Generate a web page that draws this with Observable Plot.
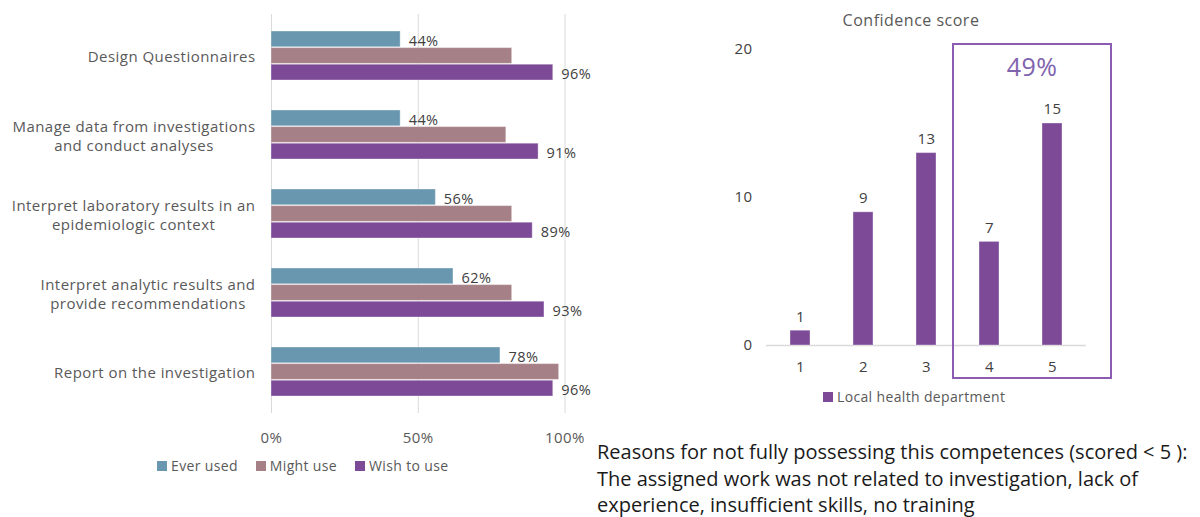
<!DOCTYPE html>
<html>
<head>
<meta charset="utf-8">
<script src="https://cdn.jsdelivr.net/npm/d3@7"></script>
<script src="https://cdn.jsdelivr.net/npm/@observablehq/plot@0.6"></script>
<style>
  html, body { margin: 0; padding: 0; background: #fff; width: 1200px; height: 517px; overflow: hidden; }
  body { position: relative; font-family: "Open Sans", sans-serif; }
  .abs { position: absolute; }
  .legend { display: flex; align-items: center; font-size: 14px; letter-spacing: 0.35px; color: #595959; white-space: nowrap; }
  .legend .item { display: flex; align-items: center; margin-right: 18px; }
  .legend .sw { width: 10px; height: 10px; margin-right: 4px; }
  #title { font-size: 16px; letter-spacing: 0.5px; color: #595959; white-space: nowrap; transform: translateX(-50%); }
  #note { font-family: "Open Sans", sans-serif; font-size: 20px; line-height: 26.7px; color: #1a1a1a; white-space: nowrap; }
</style>
</head>
<body>
<div id="left" class="abs" style="left:0;top:0"></div>
<div id="leftLegend" class="abs legend" style="left:157px;top:456px"></div>
<div id="right" class="abs" style="left:700px;top:0"></div>
<div id="title" class="abs" style="left:911px;top:9px">Confidence score</div>
<div id="rightLegend" class="abs legend" style="left:823px;top:387px"></div>
<div id="note" class="abs" style="left:597px;top:439px">Reasons for not fully possessing this competences (scored &lt; 5 ):<br>The assigned work was not related to investigation, lack of<br>experience, insufficient skills, no training</div>
<script>
// ---------- Data ----------
const categories = [
  "Design Questionnaires",
  "Manage data from investigations\nand conduct analyses",
  "Interpret laboratory results in an\nepidemiologic context",
  "Interpret analytic results and\nprovide recommendations",
  "Report on the investigation"
];
const seriesNames = ["Ever used", "Might use", "Wish to use"];
const seriesColors = ["#6997B0", "#A68087", "#7D4A98"];
const everUsed  = [0.44, 0.44, 0.56, 0.62, 0.78];
const mightUse  = [0.82, 0.80, 0.82, 0.82, 0.98];
const wishToUse = [0.96, 0.91, 0.89, 0.93, 0.96];
const xTicks = [0, 0.5, 1];

const scores = ["1", "2", "3", "4", "5"];
const counts = [1, 9, 13, 7, 15];
const yTicksRight = [0, 10, 20];
const rightSeries = "Local health department";
const highlightScores = ["4", "5"];
const highlightLabel = "49%";

const fontFamily = '"Open Sans", sans-serif';
const textColor = "#595959";
const valueColor = "#404040";
const gridColor = "#d9d9d9";
const ls = 0.45;

// ---------- Left chart ----------
const seriesValues = [everUsed, mightUse, wishToUse];
const rows = [];
categories.forEach((c, i) => seriesNames.forEach((s, j) => rows.push({cat: c, series: s, si: j, value: seriesValues[j][i]})));

const L = {width: 600, height: 450, mt: 14, mb: 37, ml: 271, mr: 35.5, pi: 0.375, po: 0.19};
const step = (L.height - L.mt - L.mb) / (categories.length - L.pi + 2 * L.po);
const bw = step * (1 - L.pi);
const sub = bw / 3;

// measure label lines for centered multi-line labels
const cv = document.createElement("canvas").getContext("2d");
cv.font = `15px ${fontFamily}`;
const labelMarks = categories.map(c => {
  const w = Math.max(...c.split("\n").map(t => cv.measureText(t).width + t.length * ls));
  return Plot.text([c], {y: d => d, text: d => d, frameAnchor: "left", textAnchor: "middle",
    dx: -(w / 2 + 16), lineHeight: 1.3, fill: textColor, fontSize: 15});
});

const leftPlot = Plot.plot({
  width: L.width, height: L.height,
  marginTop: L.mt, marginBottom: L.mb, marginLeft: L.ml, marginRight: L.mr,
  style: {fontFamily, fontSize: "15px", letterSpacing: ls + "px", color: textColor, background: "transparent", overflow: "visible"},
  x: {domain: [0, 1], ticks: xTicks, tickFormat: d3.format(".0%"), tickSize: 0, tickPadding: 19, label: null},
  y: {domain: categories, paddingInner: L.pi, paddingOuter: L.po, axis: null},
  marks: [
    Plot.ruleX(xTicks, {stroke: gridColor, strokeWidth: 1}),
    ...seriesNames.map((s, j) => Plot.barX(rows.filter(r => r.series === s), {
      x: "value", y: "cat", fill: seriesColors[j],
      insetTop: j * sub, insetBottom: (2 - j) * sub,
      stroke: "#ffffff", strokeOpacity: 0.35, strokeWidth: 1
    })),
    Plot.text(rows.filter(r => r.si === 0), {x: "value", y: "cat", text: d => d3.format(".0%")(d.value),
      textAnchor: "start", dx: 8, dy: -sub + 1.5, fill: valueColor, fontSize: 14.5}),
    Plot.text(rows.filter(r => r.si === 2), {x: "value", y: "cat", text: d => d3.format(".0%")(d.value),
      textAnchor: "start", dx: 8, dy: sub + 1.5, fill: valueColor, fontSize: 14.5}),
    ...labelMarks
  ]
});
document.getElementById("left").appendChild(leftPlot);

const ll = document.getElementById("leftLegend");
seriesNames.forEach((s, j) => {
  const it = document.createElement("div"); it.className = "item";
  it.innerHTML = `<div class="sw" style="background:${seriesColors[j]}"></div><span>${s}</span>`;
  ll.appendChild(it);
});

// ---------- Right chart ----------
const scoreRows = scores.map((s, i) => ({score: s, count: counts[i]}));
const R = {width: 500, height: 420, mt: 49, mb: 75, ml: 66, mr: 114.3};
const rightPlot = Plot.plot({
  width: R.width, height: R.height,
  marginTop: R.mt, marginBottom: R.mb, marginLeft: R.ml, marginRight: R.mr,
  style: {fontFamily, fontSize: "15px", letterSpacing: "0.4px", color: valueColor, background: "transparent", overflow: "visible"},
  x: {domain: scores, paddingInner: 0.69, paddingOuter: 0.345, tickSize: 0, tickPadding: 16, label: null},
  y: {domain: [0, 20], ticks: yTicksRight, tickSize: 0, tickPadding: 14, label: null},
  marks: [
    Plot.ruleY([0], {stroke: gridColor, strokeWidth: 1.5}),
    Plot.barY(scoreRows, {x: "score", y: "count", fill: seriesColors[2], stroke: "#ffffff", strokeOpacity: 0.35, strokeWidth: 1}),
    Plot.text(scoreRows, {x: "score", y: "count", text: d => String(d.count), dy: -14, fill: valueColor, fontSize: 15})
  ]
});
document.getElementById("right").appendChild(rightPlot);

// highlight box derived from the scales
(function () {
  const xs = rightPlot.scale("x"), ys = rightPlot.scale("y");
  const xa = v => xs.apply(v), ya = v => ys.apply(v);
  const bwR = xs.bandwidth != null ? xs.bandwidth : 20;
  const x0 = xa(highlightScores[0]) - 26;
  const x1 = xa(highlightScores[highlightScores.length - 1]) + bwR + 49;
  const y0 = ya(20) - 5, y1 = ya(0) + 33;
  const svg = d3.select(rightPlot);
  svg.append("rect").attr("x", x0).attr("y", y0).attr("width", x1 - x0).attr("height", y1 - y0)
    .attr("fill", "none").attr("stroke", "#8C5CB1").attr("stroke-width", 2);
  svg.append("text").attr("x", (x0 + x1) / 2).attr("y", y0 + 25).attr("text-anchor", "middle")
    .attr("dominant-baseline", "middle").attr("fill", "#7F63AE").attr("font-size", 25)
    .attr("font-family", fontFamily).text(highlightLabel);
})();

const rl = document.getElementById("rightLegend");
rl.innerHTML = `<div class="item"><div class="sw" style="background:${seriesColors[2]}"></div><span>${rightSeries}</span></div>`;
</script>
</body>
</html>
